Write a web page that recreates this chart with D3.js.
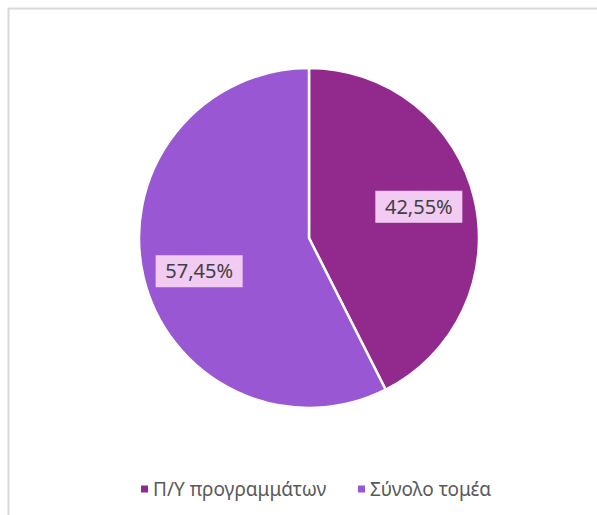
<!DOCTYPE html>
<html>
<head>
<meta charset="utf-8">
<script src="https://cdn.jsdelivr.net/npm/d3@7"></script>
<style>
  body { margin: 0; background: #fff; }
</style>
</head>
<body>
<div id="chart"></div>
<script>
var w = 597, h = 515;

var categories = ["Π/Υ προγραμμάτων", "Σύνολο τομέα"];
var values = [42.55, 57.45];
var labels = ["42,55%", "57,45%"];
var colors = ["#922A8E", "#9A57D4"];

var svg = d3.select("#chart")
    .append("svg")
    .attr("width", w)
    .attr("height", h);

// chart area border (cut off by the window on the right and bottom)
svg.append("rect")
    .attr("x", 8.5).attr("y", 8.5)
    .attr("width", 600).attr("height", 520)
    .attr("fill", "#fff")
    .attr("stroke", "#d9d9d9")
    .attr("stroke-width", 2);

var cx = 309, cy = 238, r = 170;

var pie = d3.pie().sort(null).value(function(d) { return d; });
var arc = d3.arc().innerRadius(0).outerRadius(r);
var arcs = pie(values);

var g = svg.append("g").attr("transform", "translate(" + cx + "," + cy + ")");

g.selectAll("path")
    .data(arcs)
    .enter().append("path")
    .attr("d", arc)
    .attr("fill", function(d, i) { return colors[i]; })
    .attr("stroke", "#fff")
    .attr("stroke-width", 2.5)
    .attr("stroke-linejoin", "round");

// data labels in light boxes, nudged off the centroid like Excel's best fit
var labelArc = d3.arc().innerRadius(r * 0.64).outerRadius(r * 0.64);
var nudge = [[4, -6], [-4, 8]];
var lbl = g.selectAll("g.lbl")
    .data(arcs)
    .enter().append("g")
    .attr("class", "lbl")
    .attr("transform", function(d, i) {
      var c = labelArc.centroid(d);
      return "translate(" + (c[0] + nudge[i][0]) + "," + (c[1] + nudge[i][1]) + ")";
    });

lbl.append("rect")
    .attr("x", -43.5).attr("y", -16)
    .attr("width", 87).attr("height", 32)
    .attr("fill", "#F1CBF1");

lbl.append("text")
    .attr("text-anchor", "middle")
    .attr("dy", "0.36em")
    .attr("fill", "#404040")
    .style("font-family", "'Noto Sans', sans-serif")
    .style("font-size", "20px")
    .text(function(d, i) { return labels[i]; });

// legend
var legendX = [141, 358];
var legend = svg.selectAll("g.legend")
    .data(categories)
    .enter().append("g")
    .attr("class", "legend")
    .attr("transform", function(d, i) { return "translate(" + legendX[i] + ",489)"; });

legend.append("rect")
    .attr("x", 0).attr("y", -3.5)
    .attr("width", 7).attr("height", 7)
    .attr("fill", function(d, i) { return colors[i]; });

legend.append("text")
    .attr("x", 12)
    .attr("dy", "0.35em")
    .attr("fill", "#595959")
    .style("font-family", "'Noto Sans', sans-serif")
    .style("font-size", "19px")
    .text(function(d) { return d; });
</script>
</body>
</html>
